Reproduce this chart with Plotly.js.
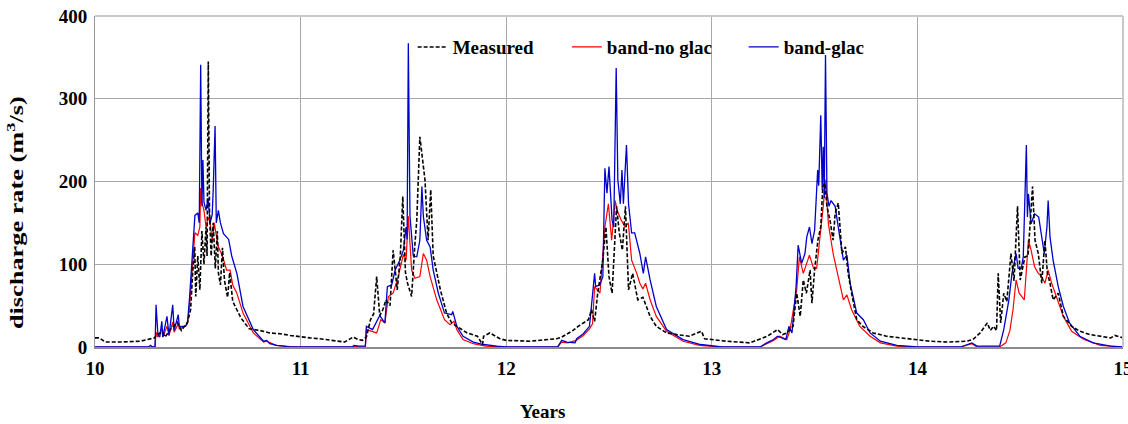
<!DOCTYPE html>
<html>
<head>
<meta charset="utf-8">
<script src="https://cdn.plot.ly/plotly-3.0.1.min.js"></script>
<style>
  html, body { margin: 0; padding: 0; background: #ffffff; }
  #chart { width: 1128px; height: 424px; }
</style>
</head>
<body>
<div id="chart"></div>
<script>
// ---------------- data ----------------
const seriesNames = ["Measured", "band-no glac", "band-glac"];
const xTickVals = [10, 11, 12, 13, 14, 15];
const yTickVals = [0, 100, 200, 300, 400];

const measX = [10.00,10.02,10.05,10.12,10.22,10.27,10.29,10.30,10.33,10.34,10.37,10.40,10.42,10.45,10.465,10.475,10.485,10.49,10.50,10.51,10.52,10.53,10.54,10.545,10.551,10.557,10.565,10.575,10.585,10.595,10.60,10.61,10.62,10.63,10.645,10.655,10.67,10.69,10.71,10.75,10.80,10.85,10.90,10.95,
 11.00,11.045,11.09,11.17,11.215,11.255,11.28,11.30,11.32,11.34,11.355,11.37,11.385,11.40,11.415,11.435,11.45,11.47,11.485,11.497,11.51,11.52,11.54,11.555,11.565,11.58,11.594,11.605,11.62,11.633,11.645,11.68,11.71,11.735,11.76,11.81,11.86,11.885,11.89,11.92,11.97,
 12.00,12.115,12.21,12.245,12.27,12.30,12.325,12.35,12.375,12.40,12.415,12.43,12.445,12.47,12.485,12.50,12.515,12.537,12.55,12.565,12.58,12.595,12.615,12.64,12.665,12.70,12.73,12.78,12.83,12.89,12.95,12.965,
 13.07,13.185,13.27,13.32,13.345,13.365,13.395,13.413,13.43,13.445,13.46,13.478,13.487,13.50,13.516,13.53,13.54,13.55,13.56,13.575,13.59,13.60,13.615,13.633,13.65,13.663,13.68,13.705,13.735,13.785,13.85,13.98,
 14.06,14.145,14.24,14.27,14.305,14.34,14.355,14.37,14.385,14.393,14.405,14.42,14.435,14.455,14.47,14.487,14.50,14.523,14.538,14.56,14.572,14.588,14.605,14.62,14.632,14.645,14.66,14.685,14.71,14.75,14.79,14.84,14.94,14.96,15.00];
const measY = [11,11,6,6,7,10,11,15,18,12,22,30,20,30,45,89,121,61,110,69,140,100,145,110,345,162,110,150,95,140,90,75,120,80,60,90,55,45,35,22,20,17,16,14,
 12,11,10,8,6,12,9,8,12,33,40,85,38,45,57,50,117,69,110,182,90,77,61,121,153,254,222,202,129,190,110,69,41,29,25,17,13,3,13,17,10,
 8,7,9,10,12,16,20,25,29,33,45,31,65,105,145,85,65,170,138,117,170,69,89,57,60,37,25,17,15,13,19,10,
 7,5,13,21,15,17,25,65,37,81,65,93,53,93,129,145,194,198,170,153,129,161,174,113,121,89,65,33,25,17,13,9,
 7,6,7,9,17,29,20,25,20,89,29,65,55,113,80,170,81,109,110,194,129,113,77,129,90,77,57,65,37,25,19,15,11,14,11];

const noGlacX = [10.00,10.292,10.297,10.306,10.325,10.33,10.35,10.36,10.378,10.385,10.405,10.41,10.44,10.45,10.46,10.477,10.486,10.50,10.51,10.514,10.52,10.53,10.54,10.55,10.56,10.57,10.575,10.58,10.59,10.60,10.62,10.64,10.657,10.67,10.69,10.72,10.77,10.82,10.835,10.88,10.95,
 11.00,11.25,11.26,11.315,11.32,11.37,11.39,11.41,11.427,11.45,11.475,11.50,11.513,11.524,11.54,11.556,11.58,11.597,11.613,11.63,11.662,11.70,11.727,11.746,11.76,11.79,11.84,11.90,
 12.00,12.25,12.27,12.30,12.34,12.375,12.405,12.42,12.43,12.456,12.48,12.497,12.513,12.53,12.54,12.56,12.578,12.594,12.61,12.635,12.65,12.665,12.678,12.70,12.73,12.78,12.86,12.94,
 13.05,13.235,13.267,13.30,13.33,13.365,13.38,13.413,13.426,13.445,13.475,13.495,13.51,13.527,13.542,13.553,13.567,13.59,13.615,13.64,13.657,13.68,13.72,13.77,13.82,13.90,
 14.00,14.21,14.265,14.29,14.40,14.43,14.45,14.465,14.48,14.495,14.52,14.53,14.54,14.553,14.57,14.588,14.605,14.62,14.636,14.653,14.68,14.71,14.75,14.81,14.89,15.00];
const noGlacY = [0,0,18,12,22,12,25,14,30,18,28,22,25,28,50,110,138,135,145,192,175,165,145,157,150,129,143,150,135,121,110,93,93,75,65,41,17,6,7,2,0.5,
 0,0,1,0,21,17,33,29,61,65,85,112,105,158,93,83,85,113,105,85,57,33,27,31,21,9,4,1,
 0,0,6,5,8,14,22,28,73,65,145,173,129,177,165,153,145,150,105,89,77,70,77,57,37,19,7,2,
 0,0,4,8,13,9,20,69,109,89,111,95,95,133,170,202,149,113,85,57,63,45,25,13,5,1,
 0,0,4,0,0,5,20,45,81,65,57,89,129,117,97,89,85,77,93,77,57,37,19,9,2,0];

const glacX = [10.00,10.26,10.27,10.28,10.292,10.297,10.306,10.315,10.325,10.33,10.35,10.36,10.378,10.385,10.405,10.41,10.44,10.45,10.46,10.477,10.486,10.50,10.507,10.514,10.52,10.525,10.53,10.54,10.55,10.56,10.57,10.575,10.584,10.59,10.60,10.61,10.625,10.65,10.665,10.69,10.72,10.77,10.82,10.835,10.85,10.885,10.935,
 11.00,11.25,11.26,11.28,11.315,11.32,11.35,11.385,11.41,11.422,11.443,11.46,11.483,11.50,11.513,11.518,11.524,11.532,11.548,11.565,11.58,11.59,11.597,11.613,11.63,11.645,11.67,11.70,11.735,11.74,11.76,11.79,11.84,11.89,11.955,
 12.00,12.25,12.27,12.295,12.335,12.343,12.375,12.405,12.43,12.435,12.455,12.47,12.48,12.49,12.50,12.515,12.523,12.535,12.543,12.555,12.563,12.57,12.585,12.595,12.61,12.625,12.65,12.667,12.678,12.70,12.73,12.78,12.86,12.945,
 13.05,13.235,13.267,13.30,13.32,13.36,13.375,13.39,13.41,13.42,13.437,13.453,13.462,13.475,13.487,13.50,13.515,13.52,13.53,13.537,13.542,13.547,13.553,13.56,13.57,13.58,13.60,13.615,13.64,13.657,13.673,13.705,13.737,13.77,13.82,13.90,
 14.00,14.21,14.265,14.29,14.40,14.42,14.445,14.46,14.48,14.49,14.505,14.515,14.53,14.535,14.54,14.553,14.57,14.59,14.605,14.617,14.63,14.636,14.645,14.66,14.685,14.71,14.74,14.79,14.855,14.94,15.00];
const glacY = [0,0,2,0,0,51,15,12,31,12,37,14,51,20,39,25,25,30,60,120,159,162,150,341,170,226,175,165,180,150,160,190,267,150,165,150,137,130,110,89,49,21,7,8,4,2,0.5,
 0,0,2,1,1,25,21,38,29,73,75,93,105,117,145,130,367,158,110,109,129,194,158,129,121,93,65,41,39,43,25,13,6,3,1,
 0,0,8,6,5,10,16,25,89,73,75,85,216,186,218,153,145,337,202,173,214,173,244,173,138,138,113,89,109,81,49,21,9,3,
 0,0,5,9,13,9,25,17,73,123,101,113,133,145,125,141,214,195,280,190,242,180,353,186,170,177,170,145,105,111,77,41,33,17,7,2,
 0,0,5,1,1,21,57,89,113,95,95,109,244,157,185,149,161,157,129,113,145,177,133,105,73,49,29,13,5,1,0];

// ---------------- chart ----------------
const FONT = "Liberation Serif";
const boldFont = (size) => ({family: FONT, size: size, color: "#000000", weight: "bold"});

const traces = [
  {x: noGlacX, y: noGlacY, name: seriesNames[1], type: "scatter", mode: "lines",
   line: {color: "#ff0000", width: 1.2}, legend: "legend2"},
  {x: glacX, y: glacY, name: seriesNames[2], type: "scatter", mode: "lines",
   line: {color: "#0000cc", width: 1.3}, legend: "legend3"},
  {x: measX, y: measY, name: seriesNames[0], type: "scatter", mode: "lines",
   line: {color: "#000000", width: 1.6, dash: "4px,2px"}, legend: "legend"}
];

const legendBase = {orientation: "h", yanchor: "middle", xanchor: "left",
  bgcolor: "rgba(0,0,0,0)", borderwidth: 0, font: boldFont(19), itemwidth: 30};

const layout = {
  width: 1128, height: 424,
  margin: {l: 95, r: 5, t: 16, b: 77},
  paper_bgcolor: "#ffffff", plot_bgcolor: "#ffffff",
  font: {family: FONT},
  showlegend: true,
  legend: Object.assign({}, legendBase, {x: 0.309, y: 0.906}),
  legend2: Object.assign({}, legendBase, {x: 0.459, y: 0.906}),
  legend3: Object.assign({}, legendBase, {x: 0.631, y: 0.906}),
  xaxis: {range: [10, 15], tickvals: xTickVals, ticktext: xTickVals.map(String),
    showgrid: true, gridcolor: "#a8a8a8", gridwidth: 1, zeroline: false,
    showline: true, linecolor: "#8c8c8c", linewidth: 1.5, ticks: "",
    ticklabeloverflow: "allow", ticklabelstandoff: 4, tickfont: boldFont(19), fixedrange: true},
  yaxis: {range: [0, 400], tickvals: yTickVals, ticktext: yTickVals.map(String),
    showgrid: true, gridcolor: "#a8a8a8", gridwidth: 1, zeroline: false,
    showline: true, linecolor: "#999999", linewidth: 1, ticks: "",
    ticklabelstandoff: 3, tickfont: boldFont(19), fixedrange: true},
  shapes: [
    {type: "line", xref: "paper", yref: "paper", x0: 0, x1: 1, y0: 1, y1: 1,
     line: {color: "#c8c8c8", width: 2}},
    {type: "line", xref: "paper", yref: "paper", x0: 1, x1: 1, y0: 0, y1: 1,
     line: {color: "#c8c8c8", width: 2}}
  ],
  annotations: [
    {text: "discharge rate (m<sup>3</sup>/s)", xref: "paper", yref: "paper",
     x: -0.077, y: 0.405, xanchor: "center", yanchor: "middle", textangle: -90,
     showarrow: false, font: boldFont(19)},
    {text: "Years", xref: "paper", yref: "paper", x: 0.435, y: -0.196,
     xanchor: "center", yanchor: "middle", showarrow: false, font: boldFont(19)}
  ]
};

Plotly.newPlot("chart", traces, layout, {staticPlot: true, displayModeBar: false}).then(function (gd) {
  // The reference's y-axis title is drawn stretched along its length (~233 px long).
  const groups = gd.querySelectorAll(".annotation-text-g");
  if (!groups.length) return;
  const g = groups[0];
  const tr = g.getAttribute("transform") || "";
  const m = tr.match(/rotate\(\s*-?[\d.]+\s*,\s*([-\d.]+)\s*,\s*([-\d.]+)\s*\)/);
  const txt = g.querySelector("text");
  if (!m || !txt) return;
  const cx = parseFloat(m[1]), cy = parseFloat(m[2]);
  const w = txt.getBBox().width;
  const s = w > 0 ? 233 / w : 1;
  g.setAttribute("transform", tr + " translate(" + cx + "," + cy + ") scale(" + s.toFixed(3) + ",1) translate(" + (-cx) + "," + (-cy) + ")");
});
</script>
</body>
</html>
